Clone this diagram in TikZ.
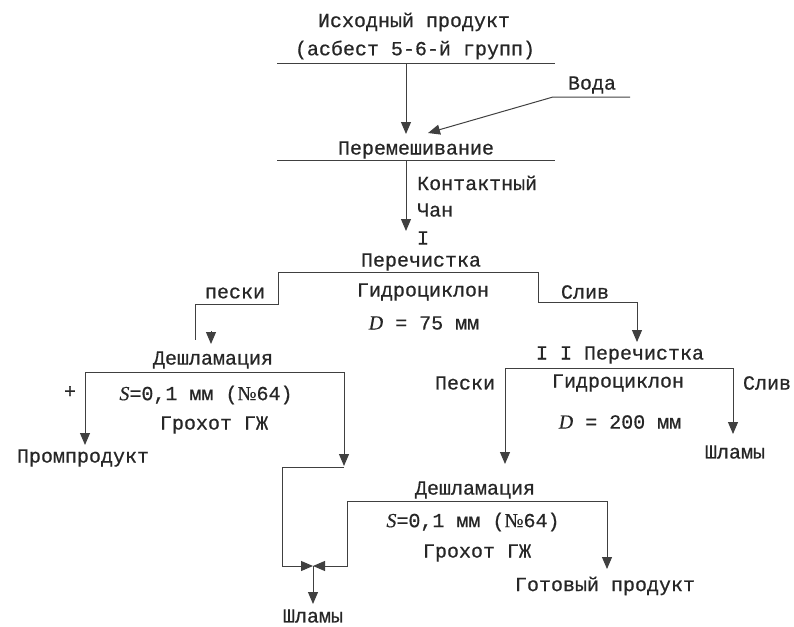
\documentclass[tikz,border=0pt]{standalone}
\usepackage{fontspec}
\setmainfont{Liberation Mono}[FakeBold=0.6]
\newfontfamily\varfont{Liberation Serif}[FakeBold=0.4]
\usetikzlibrary{arrows.meta}
\newcommand{\ivar}[1]{{\varfont\itshape #1}}
\newcommand{\numsign}{{\varfont №}}
\begin{document}
\begin{tikzpicture}[x=1pt,y=-1pt,
  txt/.style={inner sep=0pt,text=black!85,font=\fontsize{20}{22}\selectfont},
  ln/.style={draw=black!75,line width=1pt},
  flow/.style={ln,-{Triangle[width=10pt,length=12pt]}},
  bar/.style={ln}]
\useasboundingbox (0,0) rectangle (794,626);

% --- feed and mixing ---
\node[txt] (src1) at (414,22) {Исходный продукт};
\node[txt] (src2) at (415,50) {(асбест 5-6-й групп)};
\coordinate (srcL) at (277,63);
\coordinate (srcR) at (555,63);
\draw[bar] (srcL) -- (srcR);

\node[txt] (water) at (592,85) {Вода};
\coordinate (wR) at (630,97);
\coordinate (wL) at (553,97);
\coordinate (wIn) at (428,133);
\draw[flow] (wR) -- (wL) -- (wIn);

\node[txt] (mix) at (416,150) {Перемешивание};
\coordinate (mixL) at (277,160);
\coordinate (mixR) at (555,160);
\draw[bar] (mixL) -- (mixR);
\coordinate (feedTop) at (406,63);
\coordinate (feedIn) at (406,134);
\draw[flow] (feedTop) -- (feedIn);

\node[txt,anchor=west] (tank1) at (417,183) {Контактный};
\node[txt,anchor=west] (tank2) at (417,210) {Чан};
\coordinate (mixOut) at (406,160);
\coordinate (c1In) at (406,231);
\draw[flow] (mixOut) -- (c1In);

% --- first cleaning ---
\node[txt] (c1a) at (423,238) {I};
\node[txt] (c1b) at (421,262) {Перечистка};
\node[txt] (c1c) at (423,292) {Гидроциклон};
\node[txt] (c1d) at (424,323) {\ivar{D} = 75 мм};
\coordinate (c1L) at (278,272);
\coordinate (c1R) at (538,272);
\draw[bar] (c1L) -- (c1R);
\node[txt] (sand1) at (235,293) {пески};
\node[txt] (over1) at (585,292) {Слив};
\coordinate (s1a) at (278,304);
\coordinate (s1b) at (195,304);
\coordinate (s1c) at (195,340);
\draw[ln] (c1L) -- (s1a) -- (s1b) -- (s1c);
\coordinate (s1tipA) at (211,331);
\coordinate (s1tipB) at (211,344);
\draw[flow] (s1tipA) -- (s1tipB);
\coordinate (o1a) at (538,302);
\coordinate (o1b) at (637,302);
\coordinate (o1c) at (637,342);
\draw[flow] (c1R) -- (o1a) -- (o1b) -- (o1c);

% --- first desliming screen ---
\node[txt] (d1a) at (213,360) {Дешламация};
\node[txt] (d1b) at (206,395) {\ivar{S}=0,1 мм (\numsign 64)};
\node[txt] (d1c) at (214,425) {Грохот ГЖ};
\node[txt] (plus) at (70,392) {+};
\coordinate (d1L) at (85,372);
\coordinate (d1R) at (344,372);
\draw[bar] (d1L) -- (d1R);
\coordinate (d1Lout) at (85,445);
\draw[flow] (d1L) -- (d1Lout);
\node[txt] (mid) at (83,458) {Промпродукт};
\coordinate (d1Rout) at (344,466);
\draw[flow] (d1R) -- (d1Rout);

% --- second cleaning ---
\node[txt] (c2a) at (620,355) {I I Перечистка};
\node[txt] (c2b) at (618,383) {Гидроциклон};
\node[txt] (c2c) at (620,422) {\ivar{D} = 200 мм};
\node[txt] (sand2) at (465,383) {Пески};
\node[txt] (over2) at (767,383) {Слив};
\coordinate (c2L) at (505,368);
\coordinate (c2R) at (733,368);
\draw[bar] (c2L) -- (c2R);
\coordinate (c2Rout) at (733,434);
\draw[flow] (c2R) -- (c2Rout);
\node[txt] (slime1) at (735,452) {Шламы};
\coordinate (c2Lout) at (505,464);
\draw[flow] (c2L) -- (c2Lout);

% --- second desliming screen ---
\node[txt] (d2a) at (475,490) {Дешламация};
\node[txt] (d2b) at (473,522) {\ivar{S}=0,1 мм (\numsign 64)};
\node[txt] (d2c) at (477,553) {Грохот ГЖ};
\coordinate (d2L) at (347,501);
\coordinate (d2R) at (607,501);
\draw[bar] (d2L) -- (d2R);
\coordinate (d2Rout) at (607,569);
\draw[flow] (d2R) -- (d2Rout);
\node[txt] (prod) at (605,586) {Готовый продукт};

% --- combined slimes ---
\coordinate (j) at (313,566);
\coordinate (ja) at (344,467);
\coordinate (jb) at (282,467);
\coordinate (jc) at (282,566);
\draw[flow] (ja) -- (jb) -- (jc) -- (j);
\coordinate (jd) at (347,566);
\draw[flow] (d2L) -- (jd) -- (j);
\coordinate (jOut) at (313,604);
\draw[flow] (j) -- (jOut);
\node[txt] (slime2) at (313,616) {Шламы};
\end{tikzpicture}
\end{document}
